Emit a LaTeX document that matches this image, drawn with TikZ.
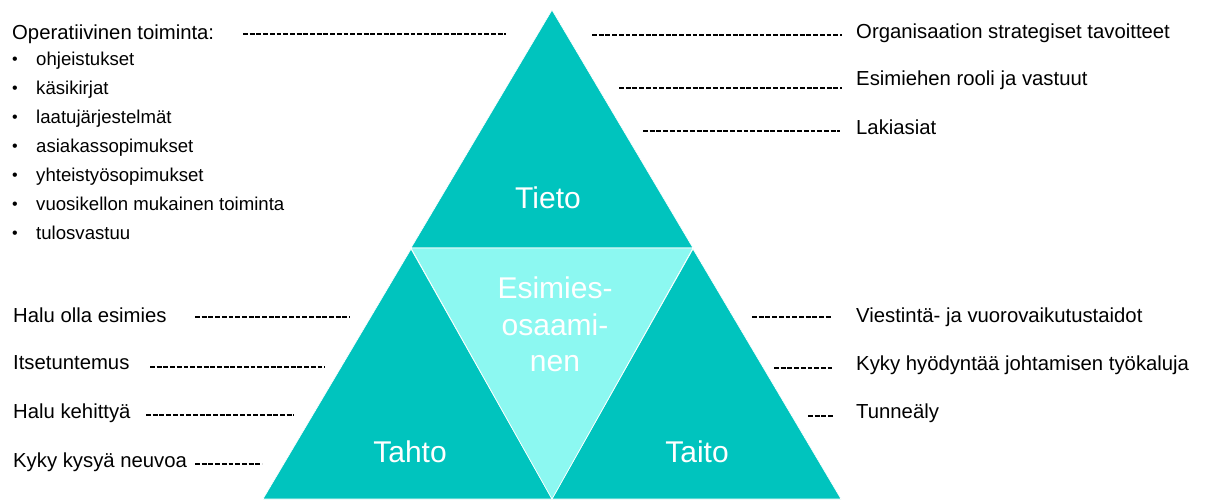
\documentclass[tikz,border=0pt]{standalone}
\usepackage{fontspec}
\setmainfont{Liberation Sans}
\definecolor{tealmain}{HTML}{00C4BE}
\definecolor{tealpale}{HTML}{8CF8F1}
\begin{document}
\begin{tikzpicture}[x=1pt,y=-1pt,
  lbl/.style={anchor=base west,inner sep=0pt,font=\fontsize{20.3}{24}\selectfont},
  item/.style={anchor=base west,inner sep=0pt,font=\fontsize{18.6}{22}\selectfont},
  dot/.style={anchor=base west,inner sep=0pt,font=\fontsize{16}{20}\selectfont},
  big/.style={text=white,inner sep=0pt,font=\fontsize{30}{36.5}\selectfont,align=center},
  leader/.style={line width=1.5pt,dash pattern=on 4.9pt off 1.8pt},
  piece/.style={draw=white,line width=0.6pt,line join=miter}]
\useasboundingbox (0,0) rectangle (1207,499);

% the four triangles
\filldraw[piece,fill=tealmain] (552,10) -- (693,248) -- (411,248) -- cycle;
\filldraw[piece,fill=tealmain] (411,249) -- (552,499) -- (263,499) -- cycle;
\filldraw[piece,fill=tealmain] (693,249) -- (841,499) -- (552,499) -- cycle;
\filldraw[piece,fill=tealpale] (411,248) -- (693,248) -- (552,499) -- cycle;

% labels inside the triangles
\node[big,anchor=base] (tieto) at (548,208) {Tieto};
\node[big,anchor=base] (tahto) at (410,462) {Tahto};
\node[big,anchor=base] (taito) at (697,462) {Taito};
\node[big] (core) at (555,324.5) {Esimies-\\osaami-\\nen};

% upper left: operative activities
\node[lbl] (oper) at (12,39) {Operatiivinen toiminta:};
\coordinate (oper-a) at (243,34);
\coordinate (oper-b) at (506,34);
\draw[leader] (oper-a) -- (oper-b);
\foreach \n/\t/\y in {1/ohjeistukset/65, 2/käsikirjat/94, 3/laatujärjestelmät/123,
  4/asiakassopimukset/152, 5/yhteistyösopimukset/181,
  6/vuosikellon mukainen toiminta/210, 7/tulosvastuu/239}{
  \node[dot] (bul\n) at (12,\y-1) {•};
  \node[item] (it\n) at (36,\y) {\t};
}

% upper right: knowledge
\coordinate (k1a) at (592,35);  \coordinate (k1b) at (842,35);
\coordinate (k2a) at (619,88);  \coordinate (k2b) at (842,88);
\coordinate (k3a) at (643,131); \coordinate (k3b) at (840,131);
\draw[leader] (k1a) -- (k1b);
\draw[leader] (k2a) -- (k2b);
\draw[leader] (k3a) -- (k3b);
\node[lbl] (k1) at (856,38)  {Organisaation strategiset tavoitteet};
\node[lbl] (k2) at (856,85)  {Esimiehen rooli ja vastuut};
\node[lbl] (k3) at (856,134) {Lakiasiat};

% lower left: will
\node[lbl] (w1) at (13,322) {Halu olla esimies};
\node[lbl] (w2) at (13,369) {Itsetuntemus};
\node[lbl] (w3) at (13,418) {Halu kehittyä};
\node[lbl] (w4) at (13,467) {Kyky kysyä neuvoa};
\coordinate (w1a) at (195,317); \coordinate (w1b) at (350,317);
\coordinate (w2a) at (150,367); \coordinate (w2b) at (325,367);
\coordinate (w3a) at (146,415); \coordinate (w3b) at (294,415);
\coordinate (w4a) at (195,464); \coordinate (w4b) at (262,464);
\draw[leader] (w1a) -- (w1b);
\draw[leader] (w2a) -- (w2b);
\draw[leader] (w3a) -- (w3b);
\draw[leader] (w4a) -- (w4b);

% lower right: skill
\coordinate (s1a) at (752,317); \coordinate (s1b) at (832,317);
\coordinate (s2a) at (774,368); \coordinate (s2b) at (832,368);
\coordinate (s3a) at (808,416); \coordinate (s3b) at (834,416);
\draw[leader] (s1a) -- (s1b);
\draw[leader] (s2a) -- (s2b);
\draw[leader] (s3a) -- (s3b);
\node[lbl] (s1) at (856,322) {Viestintä- ja vuorovaikutustaidot};
\node[lbl] (s2) at (856,370) {Kyky hyödyntää johtamisen työkaluja};
\node[lbl] (s3) at (856,418) {Tunneäly};
\end{tikzpicture}
\end{document}
